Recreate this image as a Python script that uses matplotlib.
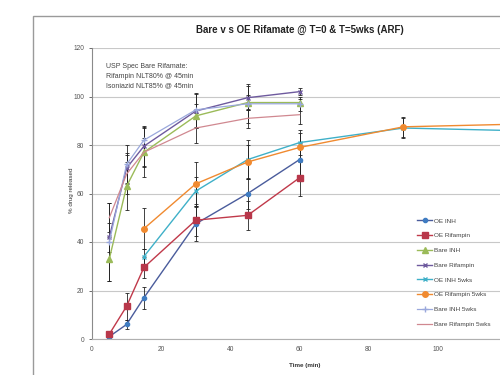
import matplotlib.pyplot as plt
from matplotlib.patches import Rectangle

plt.rcParams['font.family'] = ['Liberation Sans', 'DejaVu Sans']

# time points (min)
t_t0 = [5, 10, 15, 30, 45, 60]
t_oe5 = [15, 30, 45, 60, 90, 120]

# T=0 series
oe_inh = [1, 6, 17, 47.5, 60, 74]
oe_inh_err = [1, 2, 4.5, 7, 6.5, 7]
oe_rif = [2, 13.5, 29.5, 49, 51, 66.5]
oe_rif_err = [1.5, 5.5, 4.5, 6.5, 6, 7.5]
bare_inh = [33, 63, 77, 92, 97.5, 97.5]
bare_inh_err = [9, 10, 6, 5, 3, 1.5]
bare_rif = [42, 70.5, 79.5, 94, 99.5, 102]
bare_rif_err = [6, 6, 8, 7, 5, 1.5]

# T=5wks series
oe_inh_5 = [34, 61, 74, 81, 87, 86]
oe_inh_5_err = [3, 6, 8, 5, 4, 2]
oe_rif_5 = [45.5, 64, 73, 79, 87.5, 88.5]
oe_rif_5_err = [8.5, 9, 7, 6, 4, 2]
bare_inh_5 = [40, 72, 82, 94.5, 97, 97]
bare_inh_5_err = [16, 8, 6, 7, 8, 3]
bare_rif_5 = [50, 68, 77, 87, 91, 92.5]
bare_rif_5_err = [6, 8, 10, 6, 4, 4]

x_ticks = [0, 20, 40, 60, 80, 100]

fig = plt.figure(figsize=(5, 3.75), dpi=100)
fig.patches.append(Rectangle((33 / 500, -0.1), 1.0, (375 - 16) / 375 + 0.1,
                             transform=fig.transFigure, fill=False,
                             ec='#9a9a9a', lw=1.0))

ax = fig.add_axes([92 / 500, 36 / 375, 140 * 3.46 / 500, 291 / 375])

err_kw = dict(ecolor='#222222', elinewidth=0.6, capsize=1.6, capthick=0.6)

ax.errorbar(t_t0, oe_inh, yerr=oe_inh_err, color='#4a5c9c', lw=1.0,
            marker='o', ms=3, mfc='#3f7cc2', mec='#3f7cc2', label='OE INH', **err_kw)
ax.errorbar(t_t0, oe_rif, yerr=oe_rif_err, color='#c0394a', lw=1.0,
            marker='s', ms=4.5, mfc='#b8374a', mec='#b8374a', label='OE Rifampin', **err_kw)
ax.errorbar(t_t0, bare_inh, yerr=bare_inh_err, color='#9bbb59', lw=1.0,
            marker='^', ms=4, label='Bare INH', **err_kw)
ax.errorbar(t_t0, bare_rif, yerr=bare_rif_err, color='#6e5a9e', lw=1.0,
            marker='x', ms=3, label='Bare Rifampin', **err_kw)
ax.errorbar(t_oe5, oe_inh_5, yerr=oe_inh_5_err, color='#3fb0c8', lw=1.0,
            marker='x', ms=3.5, label='OE INH 5wks', **err_kw)
ax.errorbar(t_oe5, oe_rif_5, yerr=oe_rif_5_err, color='#f08a30', lw=1.0,
            marker='o', ms=4, label='OE Rifampin 5wks', **err_kw)
ax.errorbar(t_t0, bare_inh_5, yerr=bare_inh_5_err, color='#9aa8dc', lw=0.9,
            marker='+', ms=4, label='Bare INH 5wks', **err_kw)
ax.errorbar(t_t0, bare_rif_5, yerr=bare_rif_5_err, color='#d08890', lw=0.9,
            label='Bare Rifampin 5wks', **err_kw)

ax.set_xlim(0, 140)
ax.set_ylim(0, 120)
ax.set_xticks(x_ticks)
ax.set_yticks(range(0, 121, 20))
ax.yaxis.grid(True, color='#c8c8c8', lw=0.8)
ax.set_axisbelow(True)
for s in ['top', 'right']:
    ax.spines[s].set_visible(False)
ax.spines['left'].set_color('#8a8a8a')
ax.spines['bottom'].set_color('#b0b0b0')
ax.tick_params(axis='both', labelsize=4.8, colors='#555555', length=2, width=0.6)
ax.tick_params(axis='x', length=0, pad=5)

fig.text(300 / 500, (375 - 30) / 375, 'Bare v s OE Rifamate @ T=0 & T=5wks (ARF)',
         ha='center', va='center', fontsize=7, fontweight='bold', color='#222222')
fig.text(72 / 500, (375 - 190) / 375, '% drug released', rotation=90,
         ha='center', va='center', fontsize=4.5, color='#333333')
fig.text(305 / 500, (375 - 365) / 375, 'Time (min)', ha='center', va='center',
         fontsize=4.5, fontweight='bold', color='#333333')
fig.text(106 / 500, (375 - 76) / 375,
         'USP Spec Bare Rifamate:\nRifampin NLT80% @ 45min\nIsoniazid NLT85% @ 45min',
         ha='left', va='center', fontsize=5, color='#444444', linespacing=1.5)

handles, labels = ax.get_legend_handles_labels()
handles = [h[0] for h in handles]
fig.legend(handles, labels, loc='upper left', bbox_to_anchor=(414 / 500, (375 - 215) / 375),
           frameon=False, fontsize=4.6, labelspacing=1.45, handlelength=2.3,
           handletextpad=0.3, borderpad=0, labelcolor='#444444')

fig.savefig('out.png', dpi=100)
